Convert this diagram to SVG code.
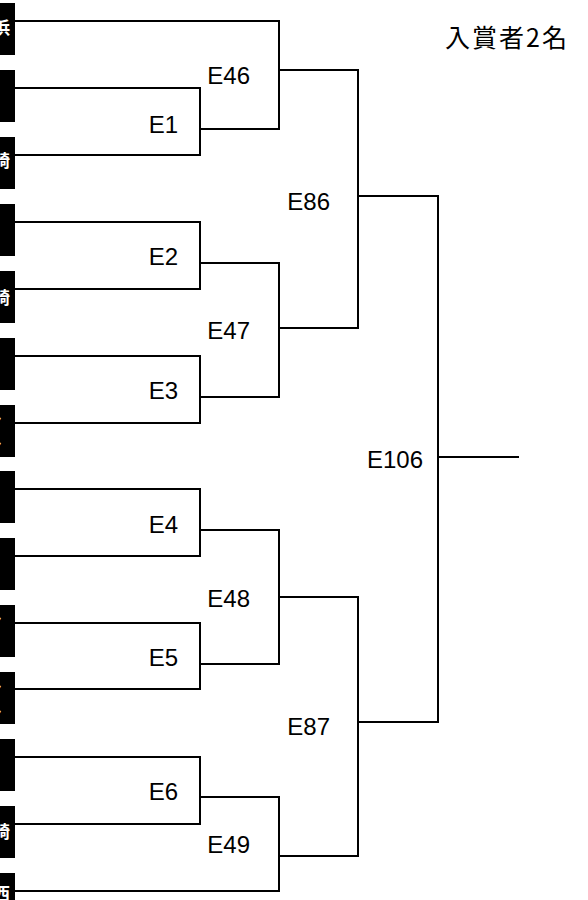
<svg xmlns="http://www.w3.org/2000/svg" width="588" height="900" viewBox="0 0 588 900">
<style>
.ln{fill:none;stroke:#000;stroke-width:2;stroke-linecap:square}
.lb{font-family:"Liberation Sans","Noto Sans CJK JP",sans-serif;font-size:24px;fill:#000;text-anchor:end}
.box{fill:#000}
.bt{font-family:"Noto Sans CJK JP","Liberation Sans",sans-serif;font-size:17px;font-weight:bold;fill:#fff;text-anchor:end}
.tt{font-family:"Noto Sans CJK JP","Liberation Sans",sans-serif;font-size:25px;fill:#000;letter-spacing:2px}
</style>
<rect width="588" height="900" fill="#fff"/>
<g id="title"><text class="tt" x="445" y="47">入賞者2名</text></g>
<g id="entrants">
<g id="p1"><rect class="box" x="0" y="3" width="15" height="52"/><text class="bt" x="10" y="34">横浜</text></g>
<g id="p2"><rect class="box" x="0" y="70" width="15" height="52"/></g>
<g id="p3"><rect class="box" x="0" y="137" width="15" height="52"/><text class="bt" x="10" y="167">川崎</text></g>
<g id="p4"><rect class="box" x="0" y="204" width="15" height="52"/></g>
<g id="p5"><rect class="box" x="0" y="271" width="15" height="52"/><text class="bt" x="10" y="304">宮崎</text></g>
<g id="p6"><rect class="box" x="0" y="338" width="15" height="52"/></g>
<g id="p7"><rect class="box" x="0" y="405" width="15" height="52"/><text class="bt" x="3" y="424">ト</text><text class="bt" x="3" y="449">ト</text></g>
<g id="p8"><rect class="box" x="0" y="471" width="15" height="52"/></g>
<g id="p9"><rect class="box" x="0" y="538" width="15" height="52"/></g>
<g id="p10"><rect class="box" x="0" y="605" width="15" height="52"/><text class="bt" x="3" y="624">ト</text></g>
<g id="p11"><rect class="box" x="0" y="672" width="15" height="52"/><text class="bt" x="3" y="692">ト</text><text class="bt" x="3" y="717">ト</text></g>
<g id="p12"><rect class="box" x="0" y="739" width="15" height="52"/></g>
<g id="p13"><rect class="box" x="0" y="806" width="15" height="52"/><text class="bt" x="10" y="838">長崎</text></g>
<g id="p14"><rect class="box" x="0" y="873" width="15" height="27"/><text class="bt" x="10" y="900">関西</text></g>
</g>
<g id="connectors">
<path class="ln" d="M15 88 H200 V155 H15 M200 129 H279"/>
<path class="ln" d="M15 222 H200 V289 H15 M200 263 H279"/>
<path class="ln" d="M15 356 H200 V423 H15 M200 397 H279"/>
<path class="ln" d="M15 489 H200 V556 H15 M200 530 H279"/>
<path class="ln" d="M15 623 H200 V689 H15 M200 664 H279"/>
<path class="ln" d="M15 757 H200 V824 H15 M200 797 H279"/>
<path class="ln" d="M15 21 H279 V129 M279 70 H358"/>
<path class="ln" d="M279 263 V397 M279 328 H358"/>
<path class="ln" d="M279 530 V664 M279 597 H358"/>
<path class="ln" d="M15 891 H279 V797 M279 856 H358"/>
<path class="ln" d="M358 70 V328 M358 196 H438"/>
<path class="ln" d="M358 597 V856 M358 722 H438"/>
<path class="ln" d="M438 196 V722 M438 457 H518"/>
</g>
<g id="labels">
<g id="E1"><text class="lb" x="178" y="133">E1</text></g>
<g id="E2"><text class="lb" x="178" y="265">E2</text></g>
<g id="E3"><text class="lb" x="178" y="399">E3</text></g>
<g id="E4"><text class="lb" x="178" y="533">E4</text></g>
<g id="E5"><text class="lb" x="178" y="666">E5</text></g>
<g id="E6"><text class="lb" x="178" y="800">E6</text></g>
<g id="E46"><text class="lb" x="250" y="84">E46</text></g>
<g id="E47"><text class="lb" x="250" y="339">E47</text></g>
<g id="E48"><text class="lb" x="250" y="607">E48</text></g>
<g id="E49"><text class="lb" x="250" y="853">E49</text></g>
<g id="E86"><text class="lb" x="330" y="210">E86</text></g>
<g id="E87"><text class="lb" x="330" y="735">E87</text></g>
<g id="E106"><text class="lb" x="423" y="468">E106</text></g>
</g>
</svg>
